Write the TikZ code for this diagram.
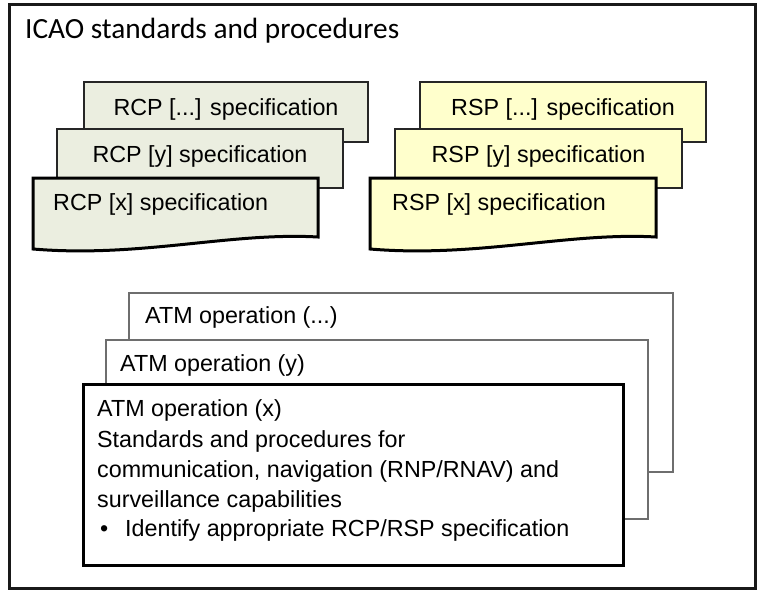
\documentclass[tikz,border=0pt]{standalone}
\usepackage{fontspec}
\setmainfont{Liberation Sans}
\newfontfamily\titlefont{Carlito}
\definecolor{rcpfill}{HTML}{EBEEE0}
\definecolor{rspfill}{HTML}{FFFFCC}
\definecolor{backline}{HTML}{6E6E6E}
\begin{document}
\begin{tikzpicture}[x=1pt,y=-1pt,
  backbox/.style={draw=black!85, line width=1.6pt, inner sep=0, outer sep=0},
  atmback/.style={draw=backline, line width=2.2pt, fill=white, inner sep=0, outer sep=0},
  frontline/.style={draw=black, line width=3pt, line join=miter},
  lbl/.style={font=\fontsize{23.3}{27}\selectfont, inner sep=0},
  lblc/.style={lbl, anchor=base},
  lbll/.style={lbl, anchor=base west}]
\useasboundingbox (0,0) rectangle (759,591);
\fill[white] (0,0) rectangle (759,591);
\node[draw=black!90, line width=3pt, minimum width=746pt, minimum height=584pt, inner sep=0] (frame) at (382.5,296.5) {};
\node[anchor=base west, inner sep=0, font=\titlefont\fontsize{29.3}{33}\selectfont] (title) at (25,39) {ICAO standards and procedures};

% RCP stack
\node[backbox, fill=rcpfill, minimum width=284pt, minimum height=60pt] (rcp3) at (226,112) {};
\node[lblc] (rcp3t) at (226,115) {RCP [...] specification};
\node[backbox, fill=rcpfill, minimum width=286pt, minimum height=59pt] (rcp2) at (200,158.5) {};
\node[lblc] (rcp2t) at (200,162) {RCP [y] specification};
\draw[frontline, fill=rcpfill] (33,178) -- (318,178) -- (318,237) .. controls (230,232) and (140,258) .. (33,249) -- cycle;
\node[lbll] (rcp1t) at (53,210) {RCP [x] specification};

% RSP stack
\node[backbox, fill=rspfill, minimum width=286pt, minimum height=60pt] (rsp3) at (563,112) {};
\node[lblc] (rsp3t) at (563,115) {RSP [...] specification};
\node[backbox, fill=rspfill, minimum width=287pt, minimum height=59pt] (rsp2) at (538.5,158.5) {};
\node[lblc] (rsp2t) at (538.5,162) {RSP [y] specification};
\draw[frontline, fill=rspfill] (370,178) -- (656,178) -- (656,237) .. controls (568,232) and (477,258) .. (370,249) -- cycle;
\node[lbll] (rsp1t) at (392,210) {RSP [x] specification};

% ATM stack
\node[atmback, minimum width=544pt, minimum height=179pt] (atm3) at (401,382.5) {};
\node[lbll] (atm3t) at (145,323) {ATM operation (...)};
\node[atmback, minimum width=542pt, minimum height=179pt] (atm2) at (377,429.5) {};
\node[lbll] (atm2t) at (120,371) {ATM operation (y)};
\node[draw=black, line width=3pt, fill=white, minimum width=540pt, minimum height=181pt, inner sep=0] (atm1) at (353,474.5) {};
\node[lbll] (l1) at (97,416) {ATM operation (x)};
\node[lbll] (l2) at (97,447) {Standards and procedures for};
\node[lbll] (l3) at (97,477) {communication, navigation (RNP/RNAV) and};
\node[lbll] (l4) at (97,507) {surveillance capabilities};
\node[lbll] (l5b) at (100,536) {•};
\node[lbll] (l5) at (125,536) {Identify appropriate RCP/RSP specification};
\end{tikzpicture}
\end{document}
